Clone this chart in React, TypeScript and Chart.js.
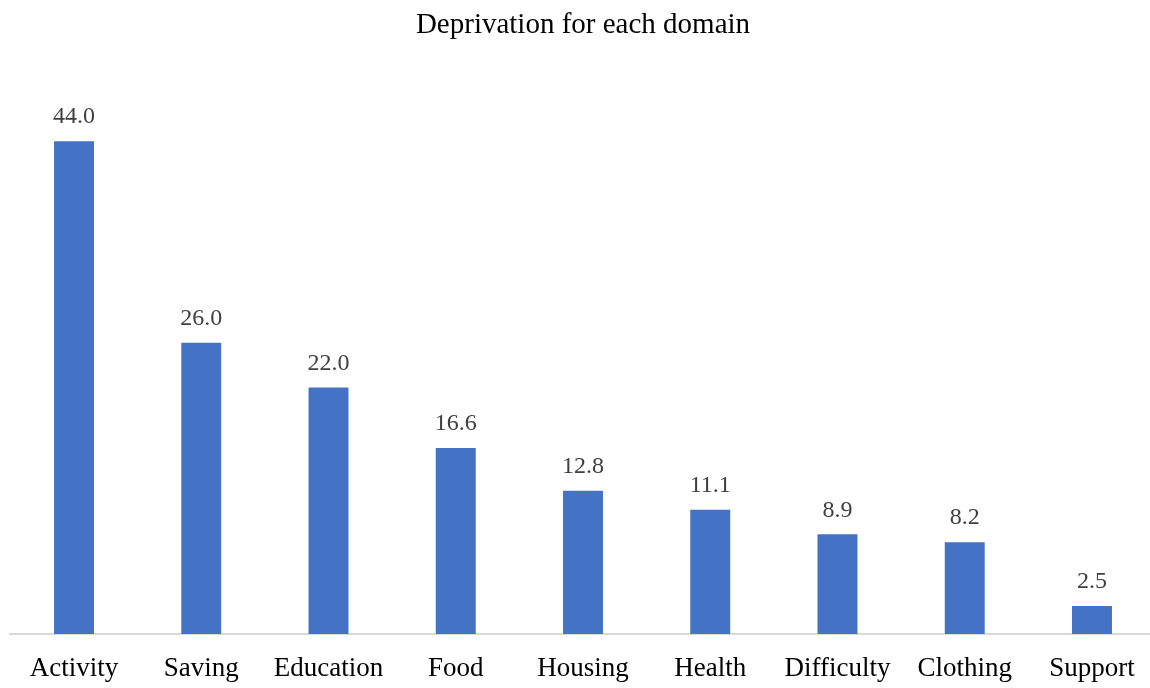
import React, { useEffect, useRef } from "react";
import { Chart, registerables } from "chart.js";

Chart.register(...registerables);

const TITLE = "Deprivation for each domain";
const CATEGORIES = ["Activity", "Saving", "Education", "Food", "Housing", "Health", "Difficulty", "Clothing", "Support"];
const VALUES = [44.0, 26.0, 22.0, 16.6, 12.8, 11.1, 8.9, 8.2, 2.5];
const Y_MAX = 50;

const FONT = "'Liberation Serif', 'Times New Roman', serif";

const labelsPlugin = {
  id: "valueLabels",
  afterDatasetsDraw(chart: any) {
    const ctx = chart.ctx;
    const meta = chart.getDatasetMeta(0);
    ctx.save();
    ctx.font = `24px ${FONT}`;
    ctx.fillStyle = "#404040";
    ctx.textAlign = "center";
    ctx.textBaseline = "middle";
    meta.data.forEach((el: any, i: number) => {
      ctx.fillText(VALUES[i].toFixed(1), el.x, el.y - 24);
    });
    const ca = chart.chartArea;
    ctx.font = `29px ${FONT}`;
    ctx.fillStyle = "#000000";
    ctx.fillText(TITLE, (ca.left + ca.right) / 2, 25);
    ctx.restore();
  },
};

export default function App() {
  const ref = useRef<HTMLCanvasElement | null>(null);
  useEffect(() => {
    if (!ref.current) return;
    const chart = new Chart(ref.current, {
      type: "bar",
      data: {
        labels: CATEGORIES,
        datasets: [
          {
            data: VALUES,
            backgroundColor: "#4472C4",
            borderWidth: 0,
            categoryPercentage: 1,
            barPercentage: 0.314,
          },
        ],
      },
      options: {
        animation: false,
        responsive: false,
        maintainAspectRatio: false,
        layout: { padding: { left: 10.4, right: 0.4, top: 74, bottom: 0 } },
        plugins: {
          legend: { display: false },
          title: { display: false },
          tooltip: { enabled: false },
        },
        scales: {
          x: {
            grid: { display: false, drawTicks: false },
            border: { display: true, color: "#d9d9d9", width: 2 },
            ticks: {
              color: "#000000",
              font: { family: FONT, size: 27 },
              padding: 18.8,
              maxRotation: 0,
              autoSkip: false,
            },
          },
          y: {
            display: false,
            min: 0,
            max: Y_MAX,
          },
        },
      },
      plugins: [labelsPlugin],
    });
    return () => chart.destroy();
  }, []);
  return (
    <div style={{ position: "fixed", left: 0, top: 0, width: 1156, height: 704, background: "#fff" }}>
      <canvas ref={ref} width={1156} height={704} style={{ display: "block" }} />
    </div>
  );
}
